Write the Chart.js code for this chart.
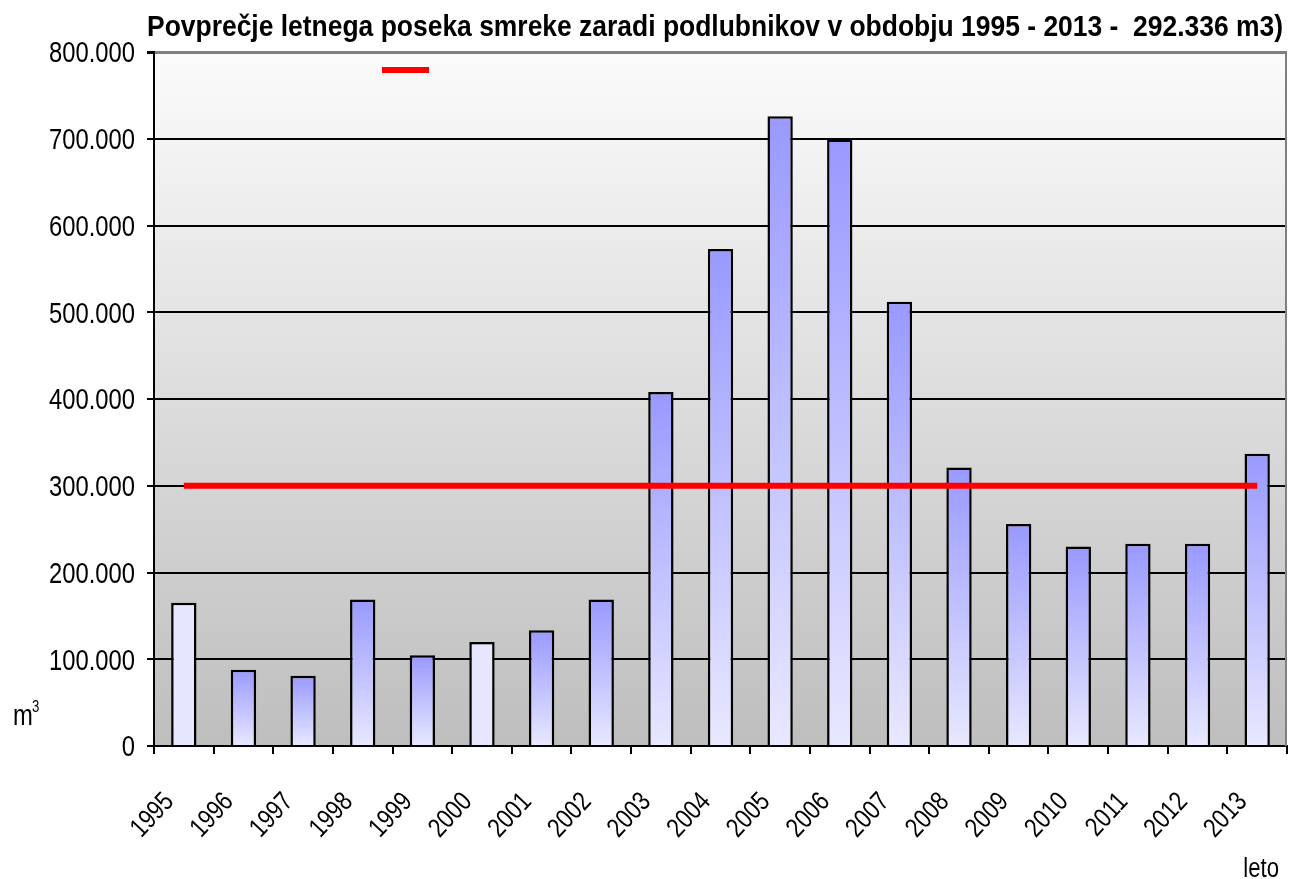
<!DOCTYPE html>
<html>
<head>
<meta charset="utf-8">
<script src="https://cdn.jsdelivr.net/npm/chart.js@4.4.1/dist/chart.umd.min.js"></script>
<style>
  html, body { margin: 0; padding: 0; background: #ffffff; }
  #wrap { width: 1289px; height: 879px; position: relative; }
</style>
</head>
<body>
<div id="wrap"><canvas id="c" width="1289" height="879"></canvas></div>
<script>
// ---- data ----
const categories = ['1995','1996','1997','1998','1999','2000','2001','2002','2003','2004','2005','2006','2007','2008','2009','2010','2011','2012','2013'];
const cutVolume = [165000, 88000, 81000, 169000, 104500, 120000, 133500, 169000, 408000, 573000, 726000, 699000, 512000, 321000, 256000, 230000, 233000, 233000, 337000];
const averageLevel = 300000;
const averageLine = categories.map(() => averageLevel);
const yTickValues = [0, 100000, 200000, 300000, 400000, 500000, 600000, 700000, 800000];
const yTickLabels = ['0', '100.000', '200.000', '300.000', '400.000', '500.000', '600.000', '700.000', '800.000'];
const titleText = 'Povprečje letnega poseka smreke zaradi podlubnikov v obdobju 1995 - 2013 -  292.336 m3)';
const xAxisTitle = 'leto';
const yAxisTitle = 'm';
const yAxisTitleSup = '3';

// ---- styles ----
const FONT = "'Liberation Sans', Arial, sans-serif";
const NARROW = 0.82;            // Arial Narrow ≈ 82% of Arial width
const TITLE_WIDTH = 1136;
const plainBars = [0, 5];

function barFill(ctx) {
  const chart = ctx.chart;
  const area = chart.chartArea;
  if (!area || ctx.type !== 'data') return '#e6e6ff';
  if (plainBars.includes(ctx.dataIndex)) return '#e6e6ff';
  const ys = chart.scales.y;
  const top = ys.getPixelForValue(ctx.raw);
  const bottom = ys.getPixelForValue(0);
  const g = chart.ctx.createLinearGradient(0, top, 0, bottom);
  g.addColorStop(0, '#9999ff');
  g.addColorStop(1, '#e8e8ff');
  return g;
}

function narrowText(ctx, text, x, y, size, opts) {
  opts = opts || {};
  ctx.save();
  ctx.font = (opts.bold ? 'bold ' : '') + size + 'px ' + FONT;
  let sx = NARROW;
  if (opts.fitWidth) sx = opts.fitWidth / ctx.measureText(text).width;
  ctx.translate(x, y);
  if (opts.rotate) ctx.rotate(opts.rotate);
  ctx.scale(sx, 1);
  ctx.textAlign = opts.align || 'left';
  ctx.textBaseline = 'alphabetic';
  ctx.fillStyle = '#000000';
  ctx.fillText(text, 0, opts.dy || 0);
  ctx.restore();
}

const decorPlugin = {
  id: 'decor',
  beforeDraw(chart) {
    const { ctx, chartArea: a } = chart;
    ctx.save();
    const g = ctx.createLinearGradient(0, a.top, 0, a.bottom);
    g.addColorStop(0, '#fbfbfb');
    g.addColorStop(1, '#bebebe');
    ctx.fillStyle = g;
    ctx.fillRect(a.left, a.top, a.right - a.left, a.bottom - a.top);
    ctx.restore();
  },
  beforeDatasetsDraw(chart) {
    const { ctx, chartArea: a } = chart;
    ctx.save();
    ctx.strokeStyle = '#808080';
    ctx.lineWidth = 2;
    ctx.beginPath();
    ctx.moveTo(a.right - 1, a.top);
    ctx.lineTo(a.right - 1, a.bottom);
    ctx.stroke();
    ctx.restore();
  },
  afterDraw(chart) {
    const { ctx, chartArea: a } = chart;
    const xs = chart.scales.x, ys = chart.scales.y;
    // title
    narrowText(ctx, titleText, 715, 36, 29, { bold: true, align: 'center', fitWidth: TITLE_WIDTH });
    // y tick labels
    yTickValues.forEach((v, i) => {
      const py = ys.getPixelForValue(v);
      narrowText(ctx, yTickLabels[i], 135, py + 10.4, 29, { align: 'right' });
    });
    // x tick labels (rotated)
    const xsz = 27;
    categories.forEach((lab, i) => {
      const px = xs.getPixelForValue(i);
      narrowText(ctx, lab, px - 16, a.bottom + 50, xsz,
        { align: 'right', rotate: -47 * Math.PI / 180, dy: xsz * 0.716 / 2 });
    });
    // axis titles
    narrowText(ctx, xAxisTitle, 1279, 877, 27, { align: 'right' });
    narrowText(ctx, yAxisTitle, 13, 725, 29, { align: 'left' });
    narrowText(ctx, yAxisTitleSup, 32, 712, 16, { align: 'left' });
    // legend swatch for the average line
    ctx.save();
    ctx.strokeStyle = chart.data.datasets[1].borderColor;
    ctx.lineWidth = 6;
    ctx.beginPath();
    ctx.moveTo(382, 70);
    ctx.lineTo(429, 70);
    ctx.stroke();
    ctx.restore();
  }
};

new Chart(document.getElementById('c'), {
  data: {
    labels: categories,
    datasets: [
      {
        type: 'bar',
        label: 'posek',
        data: cutVolume,
        backgroundColor: barFill,
        borderColor: '#000000',
        borderWidth: 2.5,
        borderSkipped: 'bottom',
        barPercentage: 0.425,
        categoryPercentage: 1.0,
        order: 1
      },
      {
        type: 'line',
        label: '',
        data: averageLine,
        borderColor: '#ff0000',
        borderWidth: 6,
        pointRadius: 0,
        fill: false,
        order: 0
      }
    ]
  },
  options: {
    responsive: false,
    animation: false,
    devicePixelRatio: 1,
    layout: { padding: { top: 52, right: 2, left: 0, bottom: 0 } },
    plugins: {
      legend: { display: false },
      title: { display: false },
      tooltip: { enabled: false }
    },
    scales: {
      x: {
        type: 'category',
        afterFit(scale) { scale.height = 133; scale.paddingLeft = 0; scale.paddingRight = 0; },
        grid: {
          offset: true,
          drawOnChartArea: false,
          drawTicks: true,
          tickLength: 8,
          color: '#000000',
          lineWidth: 2
        },
        border: { color: '#000000', width: 2 },
        ticks: { display: false, autoSkip: false }
      },
      y: {
        min: 0,
        max: 800000,
        afterFit(scale) { scale.width = 154; },
        afterBuildTicks(scale) { scale.ticks = yTickValues.map(v => ({ value: v })); },
        grid: {
          color: (c) => (c.tick && c.tick.value === 800000) ? '#808080' : '#000000',
          lineWidth: (c) => (c.tick && c.tick.value === 800000) ? 3 : 2,
          tickColor: '#000000',
          tickLength: 7,
          drawTicks: true
        },
        border: { color: '#000000', width: 2 },
        ticks: { display: false }
      }
    }
  },
  plugins: [decorPlugin]
});
</script>
</body>
</html>
